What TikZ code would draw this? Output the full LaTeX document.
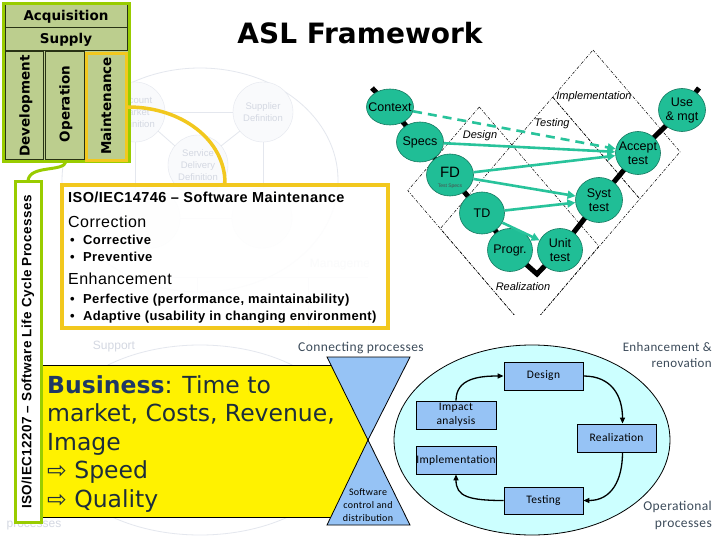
\documentclass[tikz,border=0pt]{standalone}
\usepackage{fontspec}
\setmainfont{Liberation Sans}
\newfontfamily\verd{DejaVu Sans}
\newfontfamily\arsp[LetterSpace=3]{Liberation Sans}
\newfontfamily\calsp[LetterSpace=3]{Carlito}
\usetikzlibrary{shapes.geometric,arrows.meta}
\newcommand{\myfs}[2]{\fontsize{#1}{#2}\selectfont}
\pgfdeclarelayer{bg}
\pgfsetlayers{bg,main}
\definecolor{limeG}{RGB}{153,204,0}
\definecolor{olv}{RGB}{188,206,142}
\definecolor{gold}{RGB}{242,200,30}
\definecolor{tealN}{RGB}{32,190,150}
\definecolor{tealD}{RGB}{20,120,95}
\definecolor{tealA}{RGB}{40,195,155}
\definecolor{lblue}{RGB}{150,195,245}
\definecolor{lcyan}{RGB}{204,255,255}
\definecolor{navyB}{RGB}{31,56,100}
\definecolor{darkT}{RGB}{28,45,60}
\definecolor{slateT}{RGB}{60,75,90}
\definecolor{ghostL}{RGB}{228,231,238}
\definecolor{ghostF}{RGB}{249,250,252}
\definecolor{ghostT}{RGB}{212,216,226}
\definecolor{cellB}{RGB}{40,50,20}
\begin{document}
\begin{tikzpicture}[x=1pt,y=-1pt,
  vtx/.style={rotate=90, inner sep=0, font=\verd\bfseries\myfs{13.5}{15}},
  vnode/.style={ellipse, draw=tealD, line width=0.6, fill=tealN, inner sep=0},
  vtext/.style={inner sep=0, align=center, font=\myfs{12.5}{14}},
  vlab/.style={inner sep=0, font=\itshape\myfs{11}{13}},
  tarrow/.style={draw=tealA, line width=2.6, -{Triangle[length=8pt,width=8pt]}},
  bband/.style={line width=0.5, dash pattern=on 3pt off 1.5pt on 0.8pt off 1.5pt},
  isot/.style={anchor=base west, inner sep=0},
  bizt/.style={anchor=base west, inner sep=0, font=\verd\myfs{23.5}{28}, text=darkT},
  cbox/.style={draw=black, line width=0.8, fill=lblue, inner sep=0, align=center, font=\calsp\myfs{11.5}{14}},
  carrow/.style={draw=black, line width=1.3, -{Triangle[length=6pt,width=5pt]}},
  ghosttext/.style={inner sep=0, align=center, text=ghostT, font=\myfs{9.5}{12}},
  sidelab/.style={anchor=base east, inner sep=0, text=slateT},
  cellline/.style={draw=cellB, line width=1}
]
\useasboundingbox (0,0) rectangle (720,540);
\begin{pgfonlayer}{bg}
\fill[white] (0,0) rectangle (720,540);
% faint ASL background
\begin{scope}
\clip (0,55) rectangle (368,540);
\draw[ghostL, line width=0.8] (200,180) ellipse [x radius=138, y radius=112];
\draw[ghostL, line width=0.8] (200,440) ellipse [x radius=150, y radius=95];
\draw[ghostL, line width=0.8] (165,112) -- (233,112);
\draw[ghostL, line width=0.8] (158,131) -- (175,146);
\draw[ghostL, line width=0.8] (221,146) -- (240,131);
\draw[ghostL, line width=0.8] (263,142) -- (263,190);
\draw[ghostL, line width=0.8] (135,142) -- (135,190);
\draw[ghostL, line width=0.8] (180,218) -- (232,218);
\draw[ghostL, line width=0.8] (83,277) -- (368,277);
\draw[ghostL, line width=0.8] (197,277) -- (197,330);
\draw[ghostL, line width=0.8] (308,277) -- (308,330);
\node[circle, draw=ghostL, fill=ghostF, minimum size=60, inner sep=0] (gacc) at (135,112) {};
\node[circle, draw=ghostL, fill=ghostF, minimum size=60, inner sep=0] (gsup) at (263,112) {};
\node[circle, draw=ghostL, fill=ghostF, minimum size=60, inner sep=0] (gser) at (198,165) {};
\node[circle, draw=ghostL, fill=ghostF, minimum size=60, inner sep=0] (gcap) at (150,218) {};
\node[circle, draw=ghostL, fill=ghostF, minimum size=60, inner sep=0] (gtec) at (262,218) {};
\node[ghosttext] (gacct) at (135,112) {Account\\Market\\Definition};
\node[ghosttext] (gsupt) at (263,112) {Supplier\\Definition};
\node[ghosttext] (gsert) at (198,165) {Service\\Delivery\\Definition};
\node[ghosttext, font=\myfs{12}{14}] (gman) at (345,265) {Management};
\node[ghosttext, font=\myfs{12}{14}] (gsupport) at (114,347) {Support};
\node[ghosttext, font=\myfs{12}{14}] (gproc) at (34,526) {processes};
\end{scope}
\end{pgfonlayer}

% title
\node[inner sep=0, font=\verd\bfseries\myfs{28}{32}] (title) at (360,33) {ASL Framework};

% acquisition block
\fill[olv] (3,3.5) rectangle (129,161.5);
\draw[cellline] (5,5) rectangle (127,28);
\draw[cellline] (5,28) rectangle (127,51);
\draw[cellline] (5,52) rectangle (43,160);
\draw[cellline] (45,52) rectangle (84,160);
\draw[limeG, line width=3] (3,3.5) rectangle (129,161.5);
\node[draw=gold, line width=3, minimum width=40, minimum height=107, inner sep=0] (mai) at (106.5,107) {};
\node[inner sep=0, font=\verd\bfseries\myfs{13.5}{15}] (acq) at (66,16.5) {Acquisition};
\node[inner sep=0, font=\verd\bfseries\myfs{13.5}{15}] (sup) at (66,39.5) {Supply};
\node[vtx] (devt) at (26,106) {Development};
\node[vtx] (opet) at (66,104) {Operation};
\node[vtx] (mait) at (106,106) {Maintenance};
\coordinate (acqbot) at (66,161.5);

% ISO/IEC 14746 box
\node[draw=gold, line width=3.5, fill=white, fill opacity=0.9, minimum width=326, minimum height=143, inner sep=0] (iso) at (225,256.5) {};
\draw[gold, line width=3.5] (mai.east) .. controls +(54,0) and +(0,-43) .. (iso.north);
\node[isot, font=\arsp\bfseries\myfs{14.5}{16}] (h1) at (68,203) {ISO/IEC14746 – Software Maintenance};
\node[isot, font=\arsp\myfs{16}{18}] (h2) at (68,228) {Correction};
\node[isot, font=\arsp\bfseries\myfs{13}{15}] (c1) at (70,244) {\makebox[13pt][l]{•}Corrective};
\node[isot, font=\arsp\bfseries\myfs{13}{15}] (c2) at (70,261) {\makebox[13pt][l]{•}Preventive};
\node[isot, font=\arsp\myfs{16}{18}] (h3) at (68,284) {Enhancement};
\node[isot, font=\arsp\bfseries\myfs{13}{15}] (e1) at (70,303) {\makebox[13pt][l]{•}Perfective (performance, maintainability)};
\node[isot, font=\arsp\bfseries\myfs{13}{15}] (e2) at (70,320) {\makebox[13pt][l]{•}Adaptive (usability in changing environment)};

% V model
\node[vnode, minimum width=47, minimum height=36] (ctx) at (390,107) {};
\node[vtext] (ctxt) at (ctx) {Context};
\node[vnode, minimum width=47, minimum height=40] (spe) at (420,142) {};
\node[vtext] (spet) at (spe) {Specs};
\node[vnode, minimum width=47, minimum height=42] (fd) at (450,175) {};
\node[vtext, font=\myfs{15}{16}] (fdt) at (450,172) {FD};
\node[inner sep=0, font=\myfs{5}{6}, text=black!70] (fds) at (450,186) {Test Specs};
\node[vnode, minimum width=45, minimum height=42] (td) at (482,213) {};
\node[vtext] (tdt) at (td) {TD};
\node[vnode, minimum width=45, minimum height=43] (prg) at (510,250) {};
\node[vtext] (prgt) at (prg) {Progr.};
\node[vnode, minimum width=45, minimum height=43] (unt) at (560,250) {};
\node[vtext] (untt) at (unt) {Unit\\test};
\node[vnode, minimum width=47, minimum height=45] (sys) at (599,200) {};
\node[vtext] (syst) at (sys) {Syst\\test};
\node[vnode, minimum width=45, minimum height=43] (acc) at (638,153) {};
\node[vtext] (acct) at (acc) {Accept\\test};
\node[vnode, minimum width=47, minimum height=43] (use) at (682,110) {};
\node[vtext] (uset) at (use) {Use\\\& mgt};
\coordinate (bbL) at (372,88);
\coordinate (bbV) at (537,274);
\coordinate (bbR) at (699,88);
\begin{pgfonlayer}{bg}
\begin{scope}
\clip (380,40) rectangle (720,314);
\draw[bband] (593,50) -- (680.1,151.8) -- (639.8,198.9) -- (552.7,97.1) -- cycle;
\draw[bband] (552.7,97.1) -- (639.8,198.9) -- (527.4,330.4) -- (440.3,228.6) -- cycle;
\draw[bband] (479.3,107) -- (598.9,246.2) -- (527.4,330.4) -- (407.8,190.6) -- cycle;
\end{scope}
\draw[line width=5, line join=miter] (bbL) -- (ctx.center) -- (spe.center) -- (fd.center) -- (td.center) -- (prg.center) -- (bbV) -- (unt.center) -- (sys.center) -- (acc.center) -- (use.center) -- (bbR);
\end{pgfonlayer}
\draw[tarrow, dash pattern=on 9pt off 6pt] (ctx) -- (acc);
\draw[tarrow] (spe) -- (acc);
\draw[tarrow] (fd) -- (acc);
\draw[tarrow] (fd) -- (sys);
\draw[tarrow] (td) -- (sys);
\draw[tarrow] (td) -- (unt);
\node[vlab] (lDes) at (480,136) {Design};
\node[vlab] (lTes) at (552,124) {Testing};
\node[vlab] (lImp) at (594,97) {Implementation};
\node[vlab] (lRea) at (523,287) {Realization};

% lower right cycle
\node[ellipse, draw=black, line width=0.8, fill=lcyan, minimum width=276, minimum height=190, inner sep=0] (cyc) at (532,440) {};
\node[cbox, minimum width=79, minimum height=28] (des) at (543.5,376) {Design};
\node[cbox, minimum width=80, minimum height=28] (ima) at (456,415) {Impact\\analysis};
\node[cbox, minimum width=79, minimum height=28] (rea) at (616.5,438) {Realization};
\node[cbox, minimum width=80, minimum height=28] (imp) at (456,460) {Implementation};
\node[cbox, minimum width=79, minimum height=27] (tes) at (543.5,500.5) {Testing};
\draw[carrow] (ima.north) .. controls +(0,-22) and +(-25,0) .. (des.west);
\draw[carrow] (des.east) .. controls +(28,0) and +(0,-28) .. ([xshift=6pt]rea.north);
\draw[carrow] ([xshift=6pt]rea.south) .. controls +(0,28) and +(28,0) .. (tes.east);
\draw[carrow] (tes.west) .. controls +(-35,0) and +(0,22) .. (imp.south);
\node[sidelab, font=\calsp\myfs{13}{15}] (enh1) at (712,351) {Enhancement \&};
\node[sidelab, font=\calsp\myfs{13}{15}] (enh2) at (712,367) {renovation};
\node[sidelab, font=\calsp\myfs{13.5}{15}] (opr1) at (712,510) {Operational};
\node[sidelab, font=\calsp\myfs{13.5}{15}] (opr2) at (712,527) {processes};

% business box and hourglass
\node[draw=black, line width=1, fill=yellow, minimum width=327, minimum height=152, inner sep=0] (biz) at (204.5,441) {};
\draw[fill=lblue, line width=0.8] (327,357) -- (410,357) -- (368,440) -- cycle;
\draw[fill=lblue, line width=0.8] (368,440) -- (410,525) -- (327,525) -- cycle;
\node[align=center, inner sep=0, font=\calsp\myfs{10}{13}] (hgt) at (368,505) {Software\\control and\\distribution};
\node[inner sep=0, text=slateT, font=\calsp\myfs{13.5}{15}] (conn) at (361,348) {Connecting processes};
\node[bizt] (b1) at (47,393) {\textcolor{navyB}{\bfseries Business}: Time to};
\node[bizt] (b2) at (47,421) {market, Costs, Revenue,};
\node[bizt] (b3) at (47,450) {Image};
\node[bizt] (b4) at (47,478) {⇨ Speed};
\node[bizt] (b5) at (47,507) {⇨ Quality};

% ISO/IEC 12207 vertical box
\node[draw=limeG, line width=3, fill=white, minimum width=26, minimum height=340, inner sep=0] (vbox) at (28,352) {};
\node[rotate=90, inner sep=0, font=\arsp\bfseries\myfs{13.5}{15}] (vtxt) at (28,352) {ISO/IEC12207 – Software Life Cycle Processes};
\draw[limeG, line width=3] (acqbot) .. controls +(-2,11) and +(2,-16) .. (vbox.north);
\end{tikzpicture}
\end{document}
